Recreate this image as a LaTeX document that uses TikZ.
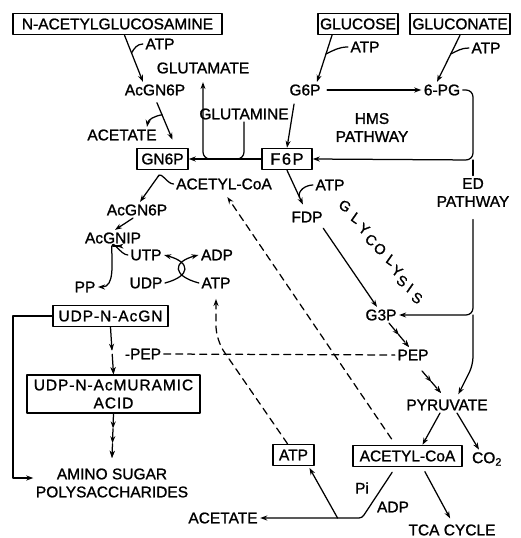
\documentclass[tikz,border=0pt]{standalone}
\usepackage{fontspec}
\setmainfont{Liberation Sans}[FakeBold=1.2]
\usetikzlibrary{arrows.meta,decorations.markings}

\begin{document}
\begin{tikzpicture}
        [x=1pt, y=-1pt, line cap=round, line join=round, line width=1.25pt,
        >={Stealth[length=7pt, width=5pt]},
        % Styles
        every node/.style={font=\fontsize{15.5}{18}\selectfont, inner sep=2pt},
        compound/.style={draw, line width=1.5pt, inner xsep=2pt, inner ysep=0pt, minimum height=21pt},
        spaced/.style={font=\fontsize{15.5}{18}\selectfont\addfontfeature{LetterSpace=6}},
        two lines/.style={align=center},
        glycolysis letter/.style={rotate=-35, inner sep=0pt, font=\fontsize{14.5}{16}\selectfont},
        long dashes/.style={dash pattern=on 7pt off 5pt},
        arrow steps/.style 2 args={dash pattern=on #1 off 5pt, postaction={decorate},
                decoration={markings, mark=between positions #2 and 1 step #2 with {\arrow{>}}}}]

        \useasboundingbox (0,0) rectangle (521,538);

        % Compounds in boxes
        \node[compound, minimum width=209pt] (acetylglucosamine) at (117.5,24) {N-ACETYLGLUCOSAMINE};
        \node[compound, minimum width=80pt] (glucose) at (358,24) {GLUCOSE};
        \node[compound, minimum width=100pt] (gluconate) at (460,24) {GLUCONATE};
        \node[compound, minimum width=51pt] (gn6p) at (162.5,159) {GN6P};
        \node[compound, minimum width=50pt, font=\fontsize{16.5}{18}\selectfont\addfontfeature{LetterSpace=9}] (f6p) at (287,159) {F6P};
        \node[compound, spaced, minimum width=115pt] (udp acgn) at (110.5,316) {UDP-N-AcGN};
        \node[compound, spaced, two lines, minimum width=173pt, inner ysep=4.5pt] (udp muramic) at (113.5,394) {UDP-N-AcMURAMIC\\ACID};
        \node[compound, minimum width=41pt] (atp box) at (293.5,455) {ATP};
        \node[compound, minimum width=109pt] (acetylcoa box) at (407.5,456) {ACETYL-CoA};

        % Intermediates
        \node (atp one) at (160,44) {ATP};
        \node (glutamate) at (203,68) {GLUTAMATE};
        \node (acgn6p one) at (155,90) {AcGN6P};
        \node (acetate one) at (122,135) {ACETATE};
        \node (glutamine) at (244,114) {GLUTAMINE};
        \node (atp two) at (365,47) {ATP};
        \node (atp three) at (486,48) {ATP};
        \node (g6p) at (305,90) {G6P};
        \node (pg) at (442,90) {6-PG};
        \node[two lines] (hms) at (372,127.5) {HMS\\PATHWAY};
        \node (acetylcoa) at (224,184) {ACETYL-CoA};
        \node (atp four) at (330,185) {ATP};
        \node (fdp) at (307,217) {FDP};
        \node[two lines] (ed) at (473,192.5) {ED\\PATHWAY};
        \node (acgn6p two) at (137,210) {AcGN6P};
        \node (acgn1p) at (113,238) {AcGNIP};
        \node (utp) at (146,255) {UTP};
        \node (adp one) at (217,255) {ADP};
        \node (udp) at (146,283) {UDP};
        \node (atp five) at (216,283) {ATP};
        \node (pp) at (85,287) {PP};
        \node (g3p) at (381,315) {G3P};
        \node (pep one) at (143,354) {-PEP};
        \node (pep two) at (413,355) {PEP};
        \node (pyruvate) at (447,405) {PYRUVATE};
        \node (co2) at (487,459) {CO\textsubscript{2}};
        \node (pi) at (362,488) {Pi};
        \node (adp two) at (393,507) {ADP};
        \node[two lines] (amino) at (112,483) {AMINO SUGAR\\POLYSACCHARIDES};
        \node (acetate two) at (223,518) {ACETATE};
        \node (tca) at (452,530) {TCA CYCLE};

        \foreach \gx/\gy/\gletter [count=\gi] in {345/206/G, 356/218/L, 364/229/Y, 371/240/C,
                380/249/O, 391/260/L, 397/271/Y, 402/281/S, 410/288/I, 417/298/S}
                \node[glycolysis letter] (glycolysis \gi) at (\gx,\gy) {\gletter};

        % Amino sugar route
        \draw[->] ([xshift=7pt]acetylglucosamine.south) -- coordinate[pos=0.38] (atp one fork)
                ([xshift=-12pt]acgn6p one.north);
        \draw (atp one fork) to[out=60, in=180] (atp one.west);
        \draw[->, shorten <=5pt] (acgn6p one.south) -- coordinate[pos=0.4] (acetate one fork)
                ([xshift=10pt, yshift=8pt]gn6p.north);
        \draw[->] (acetate one fork) to[out=190, in=80] ([xshift=25pt]acetate one.north);
        \draw[->] (f6p.west) -- (gn6p.east);
        \draw[->, rounded corners=7pt, shorten >=6pt] (glutamine.south)
                |- (glutamate.south |- gn6p.east) -- (glutamate.south);
        \draw[->, shorten <=6pt] (gn6p.south) -- coordinate[pos=0.2] (acetylcoa fork)
                ([xshift=3pt]acgn6p two.north);
        \draw (acetylcoa.west) to[out=180, in=60] (acetylcoa fork);
        \draw[->] ([xshift=-4pt]acgn6p two.south) -- ([xshift=2pt]acgn1p.north);
        \draw[->, shorten >=6pt] (acgn1p.south) -- coordinate[pos=0.25] (utp fork)
                coordinate[pos=0.5] (pp fork) (acgn1p.south -| udp acgn.north);
        \draw (utp fork) to[out=90, in=180] (utp.west);
        \draw[->] (pp fork) to[out=-90, in=0] (pp.east);
        \draw[->] (udp.east) to[out=15, in=-15, looseness=2.5] (utp.east);
        \draw[->] (atp five.west) to[out=165, in=195, looseness=2.5] (adp one.west);
        \draw[->, arrow steps={22pt}{0.5}] (udp acgn.south) -- (udp muramic.north);
        \draw[->, arrow steps={10pt}{0.333}] (udp muramic.south) -- ([yshift=8pt]amino.north);
        \draw[->] (udp acgn.west) -| (13,400) |- ([yshift=5pt]amino.west);

        % Glucose and gluconate
        \draw[->] ([xshift=-26pt]glucose.south) -- coordinate[pos=0.4] (atp two fork)
                ([xshift=12pt]g6p.north);
        \draw (atp two fork) to[out=25, in=180] (atp two.west);
        \draw[->] (gluconate.south) -- coordinate[pos=0.4] (atp three fork)
                ([xshift=-5pt]pg.north);
        \draw (atp three fork) to[out=25, in=180] (atp three.west);
        \draw[->, shorten <=4pt] (g6p.east) -- (pg.west);
        \draw[->, shorten <=6pt] ([xshift=-10pt]g6p.south) -- (f6p.north);

        % HMS and ED pathways
        \coordinate (hms corner) at (473,160);
        \draw[->, rounded corners=7pt] (pg.east) -| (hms corner) -- (f6p.east);
        \draw (hms corner) -- (ed.north);
        \coordinate (ed fork) at (ed.south |- g3p.east);
        \coordinate (ed bend) at (473,365);
        \draw[->, rounded corners=7pt, shorten <=10pt] (ed.south) |- (g3p.east);
        \draw[->, rounded corners=8pt, shorten >=3pt] (ed fork) -- (ed bend)
                -- ([xshift=10pt]pyruvate.north);

        % Glycolysis
        \draw[->, shorten >=5pt] (f6p.south) -- coordinate[pos=0.7] (atp four fork)
                ([xshift=-2pt]fdp.north);
        \draw (atp four.west) to[out=180, in=110] (atp four fork);
        \draw[->, shorten <=4pt] ([xshift=14pt]fdp.south) -- ([xshift=-4pt]g3p.north);
        \draw[->, arrow steps={10pt}{0.5}] ([xshift=8pt]g3p.south) -- ([xshift=-4pt]pep two.north);
        \draw[->, arrow steps={9pt}{0.5}] ([xshift=9pt, yshift=-8pt]pep two.south)
                -- ([xshift=-6pt, yshift=4pt]pyruvate.north);
        \draw[long dashes] (pep one.east) -- (pep two.west);

        % Pyruvate onwards
        \draw[->] ([xshift=-7pt]pyruvate.south) -- ([xshift=15pt]acetylcoa box.north);
        \draw[->] ([xshift=10pt]pyruvate.south) -- ([xshift=-8pt]co2.north);
        \draw[->, shorten <=5pt, shorten >=4pt] ([xshift=15pt]acetylcoa box.south) -- (tca.north);
        \coordinate (acetate corner) at (362,518);
        \draw[->, rounded corners=3pt, shorten <=6pt] ([xshift=-12pt]acetylcoa box.south)
                -- (acetate corner) -- coordinate[pos=0.24] (atp box fork) (acetate two.east);
        \draw[->, shorten >=2pt] (atp box fork) -- ([xshift=15pt]atp box.south);
        \draw[long dashes, ->, shorten <=7pt, shorten >=6pt] ([xshift=-12pt]acetylcoa box.north)
                -- (acetylcoa.south);
        \draw[long dashes, ->, rounded corners=14pt, shorten >=8pt] ([xshift=-6pt]atp box.north)
                -- (atp five.south |- 0,340) -- (atp five.south);
\end{tikzpicture}
\end{document}
